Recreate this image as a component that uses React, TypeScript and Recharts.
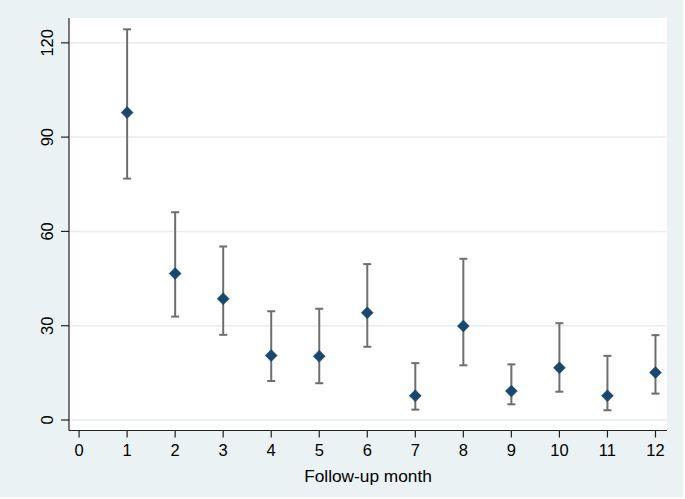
import React from 'react';
import { ComposedChart, Scatter, ErrorBar, XAxis, YAxis, CartesianGrid, Label } from 'recharts';

const months = [1, 2, 3, 4, 5, 6, 7, 8, 9, 10, 11, 12];
const estimates = [97.8, 46.6, 38.6, 20.5, 20.3, 34.1, 7.7, 29.9, 9.2, 16.6, 7.7, 15.1];
const lowerCI = [76.8, 32.9, 27.1, 12.4, 11.7, 23.3, 3.3, 17.4, 5.0, 9.0, 3.1, 8.4];
const upperCI = [124.3, 66.1, 55.2, 34.6, 35.4, 49.6, 18.1, 51.3, 17.7, 30.8, 20.4, 27.0];
const xTicks = [0, 1, 2, 3, 4, 5, 6, 7, 8, 9, 10, 11, 12];
const yTicks = [0, 30, 60, 90, 120];

const table = months.map((m, i) => ({
  month: m,
  value: estimates[i],
  err: [estimates[i] - lowerCI[i], upperCI[i] - estimates[i]],
}));

const FONT = '"Liberation Sans", Arial, sans-serif';

const Diamond = (props: any) => {
  const { cx, cy } = props;
  const r = 6;
  return (
    <polygon
      points={`${cx},${cy - r} ${cx + r},${cy} ${cx},${cy + r} ${cx - r},${cy}`}
      fill="#1A476F"
      stroke="#1A476F"
      strokeWidth={0.5}
    />
  );
};

const YTick = (props: any) => {
  const { y, payload } = props;
  const bx = 53.5;
  return (
    <text
      x={bx}
      y={y}
      transform={`rotate(-90, ${bx}, ${y})`}
      textAnchor="middle"
      fontSize={16.5}
      fontFamily={FONT}
      fill="#000"
    >
      {payload.value}
    </text>
  );
};

export default function App() {
  return (
    <div style={{ position: 'absolute', left: 0, top: 0, width: 685, height: 499, background: '#fff' }}>
      <div style={{ position: 'absolute', left: 0, top: 0, width: 683, height: 497, background: '#EAF2F3' }} />
      <div style={{ position: 'absolute', left: 0, top: 0 }}>
        <ComposedChart
          width={685}
          height={499}
          data={table}
          margin={{ top: 18, right: 18, bottom: 13.5, left: 0 }}
        >
          <CartesianGrid
            vertical={false}
            stroke="#E6EEF0"
            strokeWidth={1.5}
            fill="#ffffff"
            fillOpacity={1}
            horizontalValues={yTicks}
          />
          <XAxis
            type="number"
            dataKey="month"
            domain={[-0.21, 12.24]}
            ticks={xTicks}
            allowDataOverflow
            height={55}
            tickSize={7}
            tickMargin={7}
            interval={0}
            axisLine={{ stroke: '#222', strokeWidth: 1.2 }}
            tickLine={{ stroke: '#222', strokeWidth: 1.2 }}
            tick={{ fontSize: 16.5, fontFamily: FONT, fill: '#000' }}
          >
            <Label
              value="Follow-up month"
              position="insideBottom"
              offset={3.8}
              style={{ fontSize: 17.3, fontFamily: FONT, fill: '#000' }}
            />
          </XAxis>
          <YAxis
            type="number"
            domain={[-3.34, 127.9]}
            ticks={yTicks}
            allowDataOverflow
            width={69}
            tickSize={8}
            interval={0}
            axisLine={{ stroke: '#222', strokeWidth: 1.2 }}
            tickLine={{ stroke: '#222', strokeWidth: 1.2 }}
            tick={<YTick />}
          />
          <Scatter dataKey="value" isAnimationActive={false} shape={<Diamond />}>
            <ErrorBar
              dataKey="err"
              direction="y"
              width={4}
              stroke="#6E6E6E"
              strokeWidth={2}
              isAnimationActive={false}
            />
          </Scatter>
        </ComposedChart>
      </div>
    </div>
  );
}
